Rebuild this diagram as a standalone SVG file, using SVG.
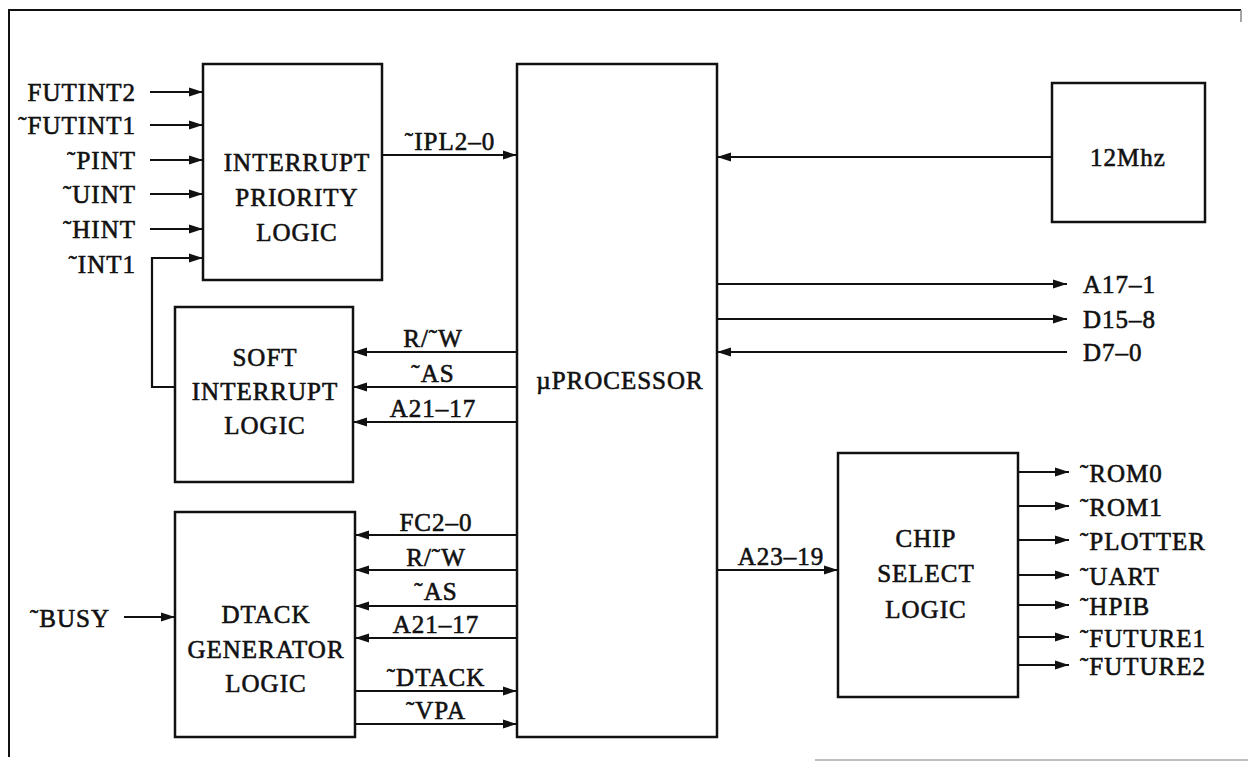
<svg xmlns="http://www.w3.org/2000/svg" width="1248" height="762" viewBox="0 0 1248 762">
<style>
text{font-family:"Liberation Serif","Times New Roman",serif;font-size:25px;letter-spacing:1px;fill:#111;stroke:#111;stroke-width:0.6}
.m{text-anchor:middle}
.e{text-anchor:end}
.box{fill:#fff;stroke:#111;stroke-width:2.5}
.ln{fill:none;stroke:#111;stroke-width:2}
.ar{fill:none;stroke:#111;stroke-width:2.2;marker-end:url(#ah)}
</style>
<defs>
<marker id="ah" markerWidth="16" markerHeight="10" refX="14" refY="5" orient="auto" markerUnits="userSpaceOnUse">
<path d="M0,0.6 L14,5 L0,9.4 z" fill="#111"/>
</marker>
</defs>
<rect x="0" y="0" width="1248" height="762" fill="#fff"/>
<g id="border">
<path class="ln" d="M9,757 V10 H1241"/>
<line x1="1241" y1="10" x2="1241" y2="22" stroke="#888" stroke-width="1.5"/>
<line x1="815" y1="760" x2="1248" y2="760" stroke="#aaa" stroke-width="1.5"/>
</g>
<g id="interrupt-priority">
<rect class="box" x="203" y="64" width="179" height="216"/>
<text class="m" x="297" y="171">INTERRUPT</text>
<text class="m" x="297" y="206">PRIORITY</text>
<text class="m" x="297" y="241">LOGIC</text>
</g>
<g id="processor">
<rect class="box" x="517" y="64" width="200" height="673"/>
<text class="m" x="620" y="389">µPROCESSOR</text>
</g>
<g id="clock">
<rect class="box" x="1052" y="83" width="153" height="139"/>
<text class="m" x="1128" y="166">12Mhz</text>
</g>
<g id="soft-interrupt">
<rect class="box" x="175" y="307" width="178" height="175"/>
<text class="m" x="265" y="366">SOFT</text>
<text class="m" x="265" y="400">INTERRUPT</text>
<text class="m" x="265" y="434">LOGIC</text>
</g>
<g id="dtack-generator">
<rect class="box" x="175" y="512" width="180" height="225"/>
<text class="m" x="266" y="623">DTACK</text>
<text class="m" x="266" y="658">GENERATOR</text>
<text class="m" x="266" y="692">LOGIC</text>
</g>
<g id="chip-select">
<rect class="box" x="838" y="453" width="180" height="244"/>
<text class="m" x="926" y="547">CHIP</text>
<text class="m" x="926" y="582">SELECT</text>
<text class="m" x="926" y="618">LOGIC</text>
</g>
<g id="connectors">
<line class="ar" x1="150" y1="92" x2="203" y2="92"/>
<line class="ar" x1="150" y1="125" x2="203" y2="125"/>
<line class="ar" x1="150" y1="160" x2="203" y2="160"/>
<line class="ar" x1="150" y1="194" x2="203" y2="194"/>
<line class="ar" x1="150" y1="229" x2="203" y2="229"/>
<path class="ar" d="M175,387 H152 V258 H203"/>
<text class="e" x="136" y="101">FUTINT2</text>
<text class="e" x="136" y="134">˜FUTINT1</text>
<text class="e" x="136" y="169">˜PINT</text>
<text class="e" x="136" y="203">˜UINT</text>
<text class="e" x="136" y="238">˜HINT</text>
<text class="e" x="136" y="273">˜INT1</text>

<line class="ar" x1="382" y1="155" x2="517" y2="155"/>
<text class="m" x="450" y="150">˜IPL2–0</text>

<line class="ar" x1="1052" y1="157" x2="717" y2="157"/>
<line class="ar" x1="717" y1="284" x2="1067" y2="284"/>
<line class="ar" x1="717" y1="319" x2="1067" y2="319"/>
<line class="ar" x1="1067" y1="352" x2="717" y2="352"/>
<text x="1083" y="293">A17–1</text>
<text x="1083" y="328">D15–8</text>
<text x="1083" y="361">D7–0</text>

<line class="ar" x1="517" y1="352" x2="353" y2="352"/>
<line class="ar" x1="517" y1="387" x2="353" y2="387"/>
<line class="ar" x1="517" y1="422" x2="353" y2="422"/>
<text class="m" x="433" y="347">R/˜W</text>
<text class="m" x="433" y="382">˜AS</text>
<text class="m" x="433" y="417">A21–17</text>

<line class="ar" x1="517" y1="535" x2="355" y2="535"/>
<line class="ar" x1="517" y1="570" x2="355" y2="570"/>
<line class="ar" x1="517" y1="606" x2="355" y2="606"/>
<line class="ar" x1="517" y1="638" x2="355" y2="638"/>
<line class="ar" x1="355" y1="691" x2="517" y2="691"/>
<line class="ar" x1="355" y1="724" x2="517" y2="724"/>
<text class="m" x="436" y="531">FC2–0</text>
<text class="m" x="436" y="566">R/˜W</text>
<text class="m" x="436" y="600">˜AS</text>
<text class="m" x="436" y="633">A21–17</text>
<text class="m" x="436" y="686">˜DTACK</text>
<text class="m" x="436" y="719">˜VPA</text>

<line class="ar" x1="124" y1="617" x2="175" y2="617"/>
<text class="e" x="110" y="627">˜BUSY</text>

<line class="ar" x1="717" y1="570" x2="838" y2="570"/>
<text class="m" x="781" y="565">A23–19</text>

<line class="ar" x1="1018" y1="472" x2="1069" y2="472"/>
<line class="ar" x1="1018" y1="506" x2="1069" y2="506"/>
<line class="ar" x1="1018" y1="540" x2="1069" y2="540"/>
<line class="ar" x1="1018" y1="575" x2="1069" y2="575"/>
<line class="ar" x1="1018" y1="605" x2="1069" y2="605"/>
<line class="ar" x1="1018" y1="637" x2="1069" y2="637"/>
<line class="ar" x1="1018" y1="665" x2="1069" y2="665"/>
<text x="1080" y="482">˜ROM0</text>
<text x="1080" y="516">˜ROM1</text>
<text x="1080" y="550">˜PLOTTER</text>
<text x="1080" y="585">˜UART</text>
<text x="1080" y="615">˜HPIB</text>
<text x="1080" y="647">˜FUTURE1</text>
<text x="1080" y="675">˜FUTURE2</text>
</g>
</svg>
